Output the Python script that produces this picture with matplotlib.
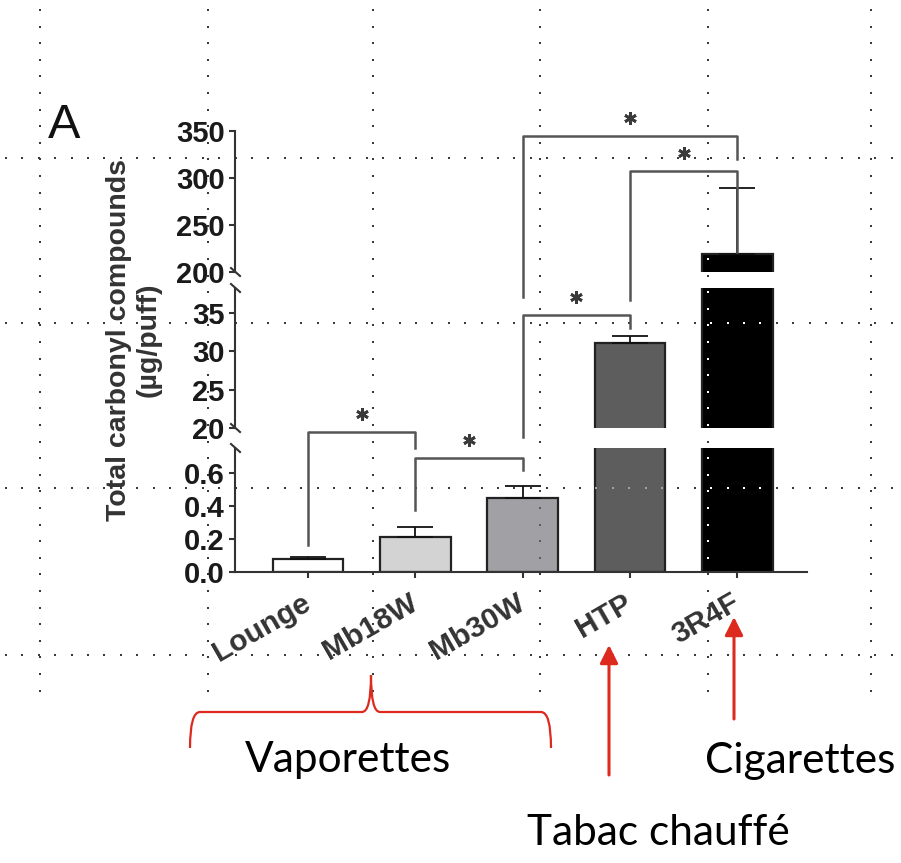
import numpy as np
import matplotlib
matplotlib.use('Agg')
import matplotlib.pyplot as plt
from matplotlib.lines import Line2D
from matplotlib.patches import PathPatch, FancyArrowPatch, ArrowStyle
from matplotlib.path import Path
from matplotlib import transforms

plt.rcParams['font.family'] = ['Liberation Sans', 'DejaVu Sans']

categories = ['Lounge', 'Mb18W', 'Mb30W', 'HTP', '3R4F']
means = [0.08, 0.21, 0.45, 31.1, 219.0]
sems = [0.012, 0.06, 0.07, 0.9, 70.0]
bar_colors = ['#ffffff', '#d3d3d3', '#a1a1a5', '#5d5d5d', '#000000']

# broken y axis: segments listed top to bottom
seg_limits = [(200, 350), (20, 38.3), (0, 0.75)]
seg_ticks = [[200, 250, 300, 350], [20, 25, 30, 35], [0.0, 0.2, 0.4, 0.6]]
seg_ticklabels = [['200', '250', '300', '350'], ['20', '25', '30', '35'],
                  ['0.0', '0.2', '0.4', '0.6']]

# pairs flagged significant (*)
sig_pairs = [(0, 1), (1, 2), (2, 3), (3, 4), (2, 4)]

W, H = 901, 863
fig = plt.figure(figsize=(W / 100, H / 100), dpi=100)


def fx(px):
    return px / W


def fy(py):
    return 1 - py / H


# dotted background lattice, as dot positions in pixels (y measured from the top)
grid_x = [40, 208, 373, 540, 708, 871]
grid_y = [158, 323, 488, 655]
dots = []
for gx in grid_x:
    dots += [(gx, py) for py in np.arange(10, 692, 16.6)]
for gy in grid_y:
    dots += [(px, gy) for px in np.arange(6, 893, 16.4)]
dots = np.array(dots)

fig.add_artist(Line2D(fx(dots[:, 0]), fy(dots[:, 1]), transform=fig.transFigure,
                      ls='none', marker='s', ms=1.8, mew=0, color='#3a3a3a', zorder=-1))

seg_px = [(131, 272), (288, 428), (448, 572)]
x = np.arange(len(categories))
bw = 0.66
axes = []
for k, ((top, bot), lim) in enumerate(zip(seg_px, seg_limits)):
    ax = fig.add_axes([fx(235), fy(bot), fx(807) - fx(235), (bot - top) / H])
    ax.set_facecolor('none')
    ax.set_xlim(-0.68, 4.65)
    ax.set_ylim(*lim)
    ax.bar(x, means, width=bw, color=bar_colors, edgecolor='#222222',
           linewidth=1.6, zorder=2)
    ax.errorbar(x, means, yerr=[np.zeros(len(x)), sems], fmt='none', ecolor='#111111',
                elinewidth=1.3, capsize=13, capthick=1.3, zorder=3)
    for s in ['top', 'right']:
        ax.spines[s].set_visible(False)
    ax.spines['left'].set_linewidth(1.5)
    ax.spines['left'].set_color('#333333')
    ax.set_yticks(seg_ticks[k])
    ax.set_yticklabels(seg_ticklabels[k], fontsize=21, fontweight='bold', color='#1a1a1a')
    ax.tick_params(axis='y', direction='out', length=4.5, width=1.5, color='#333333', pad=3)
    if k < 2:
        ax.spines['bottom'].set_visible(False)
        ax.tick_params(axis='x', bottom=False, labelbottom=False)
    else:
        ax.spines['bottom'].set_linewidth(1.5)
        ax.spines['bottom'].set_color('#333333')
        ax.set_xticks(x)
        ax.set_xticklabels(categories, rotation=30, ha='right', va='top',
                           rotation_mode='anchor', fontsize=21.5, fontweight='bold',
                           color='#333333')
        ax.tick_params(axis='x', direction='out', length=4, width=1.5, color='#333333', pad=8)
        shift = transforms.ScaledTranslation(-0.07, 0, fig.dpi_scale_trans)
        for lbl in ax.get_xticklabels():
            lbl.set_transform(lbl.get_transform() + shift)

    # lattice dots falling on a filled bar are redrawn in the inverse shade
    for xi, h, c in zip(x, means, bar_colors):
        y0, y1 = max(0, lim[0]), min(h, lim[1])
        if y1 <= y0:
            continue
        (l, b), (r, t) = ax.transData.transform([(xi - bw / 2, y0), (xi + bw / 2, y1)])
        px_, py_ = dots[:, 0], H - dots[:, 1]
        inside = (px_ > l) & (px_ < r) & (py_ > b) & (py_ < t)
        if not inside.any():
            continue
        inv = tuple(1 - v for v in matplotlib.colors.to_rgb(c))
        ax.plot(fx(dots[inside, 0]), fy(dots[inside, 1]), transform=fig.transFigure,
                ls='none', marker='s', ms=1.9, mew=0, color=inv, zorder=4, clip_on=False)
    axes.append(ax)

# break marks at the segment ends
for yb in [272, 288, 428, 448]:
    fig.add_artist(Line2D([fx(231), fx(240)], [fy(yb - 4), fy(yb + 4)],
                          transform=fig.transFigure, color='#333333', lw=1.5))

# significance brackets: (bar top, left leg end, right leg end) in pixels
bracket_px = [(432, 545, 448), (458, 510, 470), (315, 437, 328), (171, 300, 252), (136, 297, 159)]
blend = transforms.blended_transform_factory(axes[2].transData, fig.transFigure)
for (i, j), (top, lb, rb) in zip(sig_pairs, bracket_px):
    fig.add_artist(Line2D([i, i, j, j], [fy(lb), fy(top), fy(top), fy(rb)], transform=blend,
                          color='#555555', lw=1.8, solid_joinstyle='round', zorder=3))
    fig.add_artist(Line2D([(i + j) / 2], [fy(top - 18)], transform=blend, marker=(6, 2, 0),
                          ms=9, mew=2.0, color='#3a3a3a', zorder=3))

fig.text(fx(134), fy(340), 'Total carbonyl compounds\n(\u00b5g/puff)', rotation=90,
         ha='center', va='center', multialignment='center', fontsize=20.5,
         fontweight='bold', color='#333333', linespacing=1.15)

fig.text(fx(48), fy(138), 'A', fontsize=35, ha='left', va='baseline', color='#111111')

# red call-outs
red = '#dd2a1e'
brace = [(190, 748), (190, 712), (200, 712), (362, 712), (371, 712), (371, 675),
         (371, 712), (380, 712), (541, 712), (551, 712), (551, 748)]
codes = [Path.MOVETO, Path.CURVE3, Path.CURVE3, Path.LINETO, Path.CURVE3, Path.CURVE3,
         Path.CURVE3, Path.CURVE3, Path.LINETO, Path.CURVE3, Path.CURVE3]
verts = [(fx(px), fy(py)) for px, py in brace]
fig.add_artist(PathPatch(Path(verts, codes), transform=fig.transFigure, fill=False,
                         edgecolor=red, lw=1.6))

for ax_x, y_tail, y_tip in [(609, 775, 645), (734, 719, 617)]:
    fig.add_artist(FancyArrowPatch((fx(ax_x), fy(y_tail)), (fx(ax_x), fy(y_tip)),
                                   transform=fig.transFigure,
                                   arrowstyle=ArrowStyle('-|>', head_length=1.1, head_width=0.55),
                                   mutation_scale=10, lw=2.2, color=red,
                                   shrinkA=0, shrinkB=0))

note_font = ['Lato', 'DejaVu Sans']
fig.text(fx(245), fy(772), 'Vaporettes', fontsize=30.5, family=note_font, ha='left', va='baseline')
fig.text(fx(705), fy(773), 'Cigarettes', fontsize=30.5, family=note_font, ha='left', va='baseline')
fig.text(fx(527), fy(845), 'Tabac chauff\u00e9', fontsize=30.5, family=note_font, ha='left',
         va='baseline')

fig.savefig('out.png', dpi=100)
